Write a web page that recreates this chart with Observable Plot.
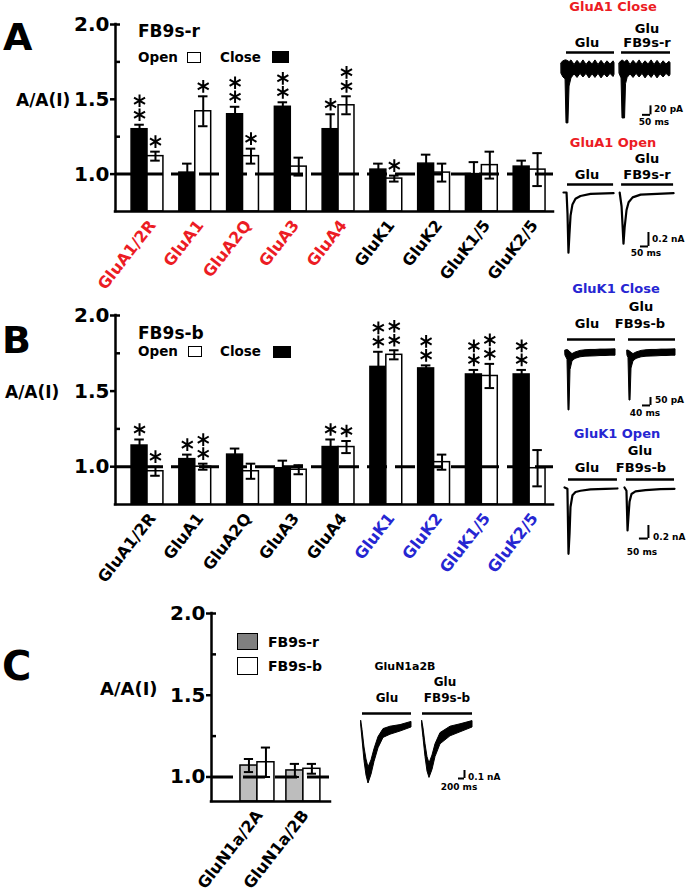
<!DOCTYPE html>
<html><head><meta charset="utf-8">
<script src="https://cdn.jsdelivr.net/npm/d3@7"></script>
<script src="https://cdn.jsdelivr.net/npm/@observablehq/plot@0.6"></script>
<style>
html,body{margin:0;padding:0;background:#fff;}
#fig{position:relative;width:693px;height:896px;overflow:hidden;background:#fff;}
#fig svg{position:absolute;}
.lbl{position:absolute;white-space:pre;line-height:1;font-weight:bold;font-family:"DejaVu Sans",sans-serif;color:#000;}
.sw{position:absolute;box-sizing:border-box;border:1.5px solid #000;}
</style></head><body><div id="fig"></div>
<script>
// ================= DATA =================
const catsAB = ["GluA1/2R","GluA1","GluA2Q","GluA3","GluA4","GluK1","GluK2","GluK1/5","GluK2/5"];
// Panel A : FB9s-r
const aCloseMean  = [1.30,1.01,1.40,1.45,1.30,1.03,1.07,1.00,1.05];
const aCloseSem   = [0.03,0.06,0.05,0.03,0.10,0.04,0.06,0.08,0.04];
const aOpenMean   = [1.12,1.42,1.12,1.05,1.46,0.97,1.01,1.06,1.03];
const aOpenSem    = [0.03,0.10,0.05,0.06,0.06,0.02,0.06,0.09,0.11];
const aCloseStars = [2,0,2,2,1,0,0,0,0];
const aOpenStars  = [1,1,1,0,2,1,0,0,0];
// Panel B : FB9s-b
const bCloseMean  = [1.14,1.05,1.08,0.99,1.13,1.66,1.65,1.61,1.61];
const bCloseSem   = [0.04,0.03,0.04,0.05,0.05,0.10,0.02,0.03,0.03];
const bOpenMean   = [0.97,1.00,0.97,0.98,1.13,1.74,1.03,1.60,0.99];
const bOpenSem    = [0.03,0.02,0.05,0.03,0.04,0.03,0.05,0.08,0.12];
const bCloseStars = [1,1,0,0,1,2,2,2,2];
const bOpenStars  = [1,2,0,0,1,2,0,2,0];
// Panel C : NMDA
const catsC   = ["GluN1a/2A","GluN1a/2B"];
const cRMean  = [1.07,1.04];
const cRSem   = [0.04,0.04];
const cBMean  = [1.09,1.05];
const cBSem   = [0.09,0.03];
const yTicks = [1.0,1.5,2.0];
const yMinor = [1.25,1.75,2.0];

// Current traces: [time ms, low, high] (noisy envelope) or [time ms, current]
const tA1C_1 = [[-31,-12,12],[-19,-20,16],[-6,-24,18],[0,-122,18],[12,-122,16],[19,-40,14],[31,-22,18],[50,-13,8],[69,-21,17],[88,-12,9],[106,-20,18],[125,-12,8],[144,-22,16],[163,-13,9],[181,-21,18],[200,-12,8],[219,-22,17],[238,-13,8],[256,-20,16],[275,-12,9],[294,-19,16],[300,-14,12]];
const tA1C_2 = [[-12,-12,12],[0,-22,16],[6,-111,18],[22,-111,14],[28,-35,16],[38,-21,18],[56,-13,8],[75,-21,17],[94,-12,9],[113,-20,18],[131,-12,8],[150,-22,16],[169,-13,9],[188,-21,18],[206,-12,8],[225,-22,17],[244,-13,8],[263,-20,16],[281,-12,9],[300,-18,15],[306,-14,12]];
const tA1O_1 = [[-25,0],[-6,0],[0,-0.3],[6,-0.86],[12,-0.6],[19,-0.33],[31,-0.17],[50,-0.09],[81,-0.05],[144,-0.02],[288,-0.01]];
const tA1O_2 = [[-12,0],[0,-0.2],[12,-0.73],[19,-0.5],[31,-0.25],[44,-0.14],[69,-0.07],[119,-0.03],[325,-0.01]];
const tK1C_1 = [[-10,-20,12],[0,-45,15],[5,-362,12],[10,-362,8],[15,-110,0],[25,-55,-10],[40,-40,0],[65,-30,10],[90,-26,14],[115,-25,16],[140,-24,16],[165,-22,18],[190,-22,18],[215,-20,19],[240,-20,20]];
const tK1C_2 = [[-5,-20,12],[0,-35,12],[5,-300,8],[10,-300,4],[15,-100,-2],[25,-55,-10],[40,-40,0],[65,-30,10],[90,-26,14],[115,-25,16],[140,-24,16],[165,-22,18],[190,-22,18],[215,-20,19],[235,-20,20]];
const tK1O_1 = [[-22,0],[-6,-0.02],[0,-1.02],[6,-0.7],[11,-0.3],[22,-0.12],[39,-0.07],[67,-0.05],[122,-0.03],[206,-0.02],[272,-0.015]];
const tK1O_2 = [[-11,0],[0,-0.05],[6,-0.66],[11,-0.45],[17,-0.22],[28,-0.1],[50,-0.06],[106,-0.04],[189,-0.025],[267,-0.02]];
const tN2B_1 = [[-43,-0.03,0.03],[0,-0.2,-0.08],[67,-0.47,-0.3],[133,-0.65,-0.45],[200,-0.75,-0.55],[300,-0.64,-0.46],[400,-0.48,-0.32],[533,-0.31,-0.17],[700,-0.18,-0.07],[933,-0.14,-0.04],[1267,-0.1,-0.02],[1633,-0.05,0.02]];
const tN2B_2 = [[-10,-0.03,0.03],[33,-0.18,-0.06],[100,-0.42,-0.26],[167,-0.6,-0.42],[233,-0.68,-0.5],[333,-0.58,-0.4],[433,-0.42,-0.26],[600,-0.26,-0.12],[933,-0.16,-0.04],[1267,-0.11,-0.01],[1667,-0.05,0.03]];
// Glu application periods (ms, per sweep) and scale bars
const appA1C = [[0,300],[0,306]];
const appA1O = [[0,288],[0,325]];
const appK1C = [[0,240],[0,235]];
const appK1O = [[0,272],[0,267]];
const appN2B = [[0,1633],[0,1667]];
const scaleA1C = {dur:50, amp:20,  durLabel:"50 ms",  ampLabel:"20 pA"};
const scaleA1O = {dur:50, amp:0.2, durLabel:"50 ms",  ampLabel:"0.2 nA"};
const scaleK1C = {dur:40, amp:50,  durLabel:"40 ms",  ampLabel:"50 pA"};
const scaleK1O = {dur:50, amp:0.2, durLabel:"50 ms",  ampLabel:"0.2 nA"};
const scaleN2B = {dur:200,amp:0.1, durLabel:"200 ms", ampLabel:"0.1 nA"};

// ================= HELPERS =================
const RED = "#ec1c24", BLUE = "#2626d2";
const fig = document.getElementById("fig");
function place(svg, left, top){ svg.style.left = left+"px"; svg.style.top = top+"px"; fig.appendChild(svg); }
function label(text, x, cy, size, anchor="start", color="#000"){
  const d = document.createElement("div");
  d.className = "lbl"; d.textContent = text;
  d.style.fontSize = size+"px"; d.style.top = (cy - 0.48*size)+"px"; d.style.color = color;
  if (anchor === "start") d.style.left = x+"px";
  else if (anchor === "middle") { d.style.left = x+"px"; d.style.transform = "translateX(-50%)"; }
  else { d.style.right = (693 - x)+"px"; }
  fig.appendChild(d);
}
function swatch(x, y, w, h, fill){
  const d = document.createElement("div"); d.className = "sw";
  Object.assign(d.style, {left:x+"px", top:y+"px", width:w+"px", height:h+"px", background:fill});
  fig.appendChild(d);
}
const baseStyle = {fontFamily:"DejaVu Sans", fontWeight:"bold", overflow:"visible", background:"none"};

function barPanel(o){
  const {cats, left, right, leftFill, rightFill, catColor, xDomain, yDomain, width, height,
         ml, mr, mt, mb, bw, capW, rot, ldx, ldy, lsize, dash} = o;
  const ppu = (width - ml - mr) / (xDomain[1] - xDomain[0]);
  const rows = [];
  cats.forEach((c, i) => {
    rows.push({i, side:0, v:left.mean[i],  e:left.sem[i],  s:left.stars ? left.stars[i] : 0,  fill:leftFill});
    rows.push({i, side:1, v:right.mean[i], e:right.sem[i], s:right.stars ? right.stars[i] : 0, fill:rightFill});
  });
  const cx = d => d.i + (d.side ? bw/2 : -bw/2);
  const catRows = cats.map((c, i) => ({i, c, color: catColor(c)}));
  return Plot.plot({
    width, height, marginLeft:ml, marginRight:mr, marginTop:mt, marginBottom:mb,
    x:{domain:xDomain, axis:null}, y:{domain:yDomain, axis:null},
    color:{type:"identity"},
    style: baseStyle,
    marks:[
      Plot.rect(rows, {x1: d => d.i - (d.side ? 0 : bw), x2: d => d.i + (d.side ? bw : 0),
                       y1: yDomain[0], y2: "v", fill: "fill", stroke: "black", strokeWidth: 1.5}),
      Plot.ruleY([1], {stroke:"black", strokeWidth:3, strokeDasharray: dash}),
      Plot.ruleX(rows, {x: cx, y1: d => d.v - d.e, y2: d => d.v + d.e, strokeWidth: 2}),
      Plot.ruleY(rows, {y: d => d.v + d.e, x1: d => cx(d) - capW, x2: d => cx(d) + capW, strokeWidth: 2}),
      Plot.ruleY(rows, {y: d => d.v - d.e, x1: d => cx(d) - capW, x2: d => cx(d) + capW, strokeWidth: 2}),
      Plot.dot(rows.filter(d => d.s >= 1), {x: cx, y: d => d.v + d.e, symbol:"asterisk", r:6, stroke:"black", strokeWidth:2, dy:-10}),
      Plot.dot(rows.filter(d => d.s >= 2), {x: cx, y: d => d.v + d.e, symbol:"asterisk", r:6, stroke:"black", strokeWidth:2, dy:-24}),
      Plot.ruleX([xDomain[0]], {strokeWidth:2.5, strokeLinecap:"square"}),
      Plot.ruleY([yDomain[0]], {strokeWidth:2.5, strokeLinecap:"square"}),
      Plot.ruleY(yTicks, {y: d => d, x1: xDomain[0] - 5/ppu, x2: xDomain[0], strokeWidth:2.5}),
      Plot.ruleY(yMinor, {y: d => d, x1: xDomain[0], x2: xDomain[0] + 5/ppu, strokeWidth:2.5}),
      Plot.text(yTicks, {y: d => d, frameAnchor:"left", text: d => d.toFixed(1), textAnchor:"end", dx:-6, fontSize:20, fontWeight:"bold"}),
      Plot.text(catRows, {x:"i", frameAnchor:"bottom", text:"c", rotate:rot, textAnchor:"end", dx:ldx, dy:ldy, fill:"color", fontSize:lsize, fontWeight:"bold"})
    ]
  });
}

function tracePlot(o){
  const {left, top, width, height, x0, kx, y0, ky, gap, sweeps, band, apps, appLevel, scale, corner} = o;
  const xDomain = [(left - x0)/kx, (left + width - x0)/kx];
  const yDomain = [(y0 - (top + height))/ky, (y0 - top)/ky];
  const rows = [];
  sweeps.forEach((sw, k) => sw.forEach(p => rows.push(band ? {sw:k, t:p[0], lo:p[1], hi:p[2]} : {sw:k, t:p[0], I:p[1]})));
  const appRows = apps.map((a, k) => ({sw:k, a:a[0], b:a[1]}));
  const X = d => d.t + d.sw*gap;
  const sb = [{t: corner[0], I: corner[1], dur: scale.dur, amp: scale.amp}];
  const traceMarks = band
    ? [Plot.areaY(rows, {x: X, y1:"lo", y2:"hi", z:"sw", fill:"black", stroke:"black", strokeWidth:1})]
    : [Plot.line(rows, {x: X, y:"I", z:"sw", stroke:"black", strokeWidth:2.2})];
  const svg = Plot.plot({
    width, height, margin:0,
    x:{domain:xDomain, axis:null}, y:{domain:yDomain, axis:null},
    style: baseStyle,
    marks:[
      ...traceMarks,
      Plot.ruleY(appRows, {y: appLevel, x1: d => d.a + d.sw*gap, x2: d => d.b + d.sw*gap, strokeWidth:2.5}),
      Plot.ruleX(sb, {x:"t", y1:"I", y2: d => d.I + d.amp, strokeWidth:2}),
      Plot.ruleY(sb, {y:"I", x1: d => d.t - d.dur, x2:"t", strokeWidth:2})
    ]
  });
  place(svg, left, top);
}

// ================= PANELS =================
const dashAB = "20,8";
place(barPanel({
  cats:catsAB, left:{mean:aCloseMean, sem:aCloseSem, stars:aCloseStars}, right:{mean:aOpenMean, sem:aOpenSem, stars:aOpenStars},
  leftFill:"black", rightFill:"white", catColor: c => c.startsWith("GluA") ? RED : "black",
  xDomain:[-0.67, 8.5], yDomain:[0.75, 2.0], width:560, height:300, ml:115, mr:7, mt:24, mb:89,
  bw:1/3, capW:0.1, rot:-52, ldx:9, ldy:14, lsize:16, dash:dashAB
}), 0, 0);

place(barPanel({
  cats:catsAB, left:{mean:bCloseMean, sem:bCloseSem, stars:bCloseStars}, right:{mean:bOpenMean, sem:bOpenSem, stars:bOpenStars},
  leftFill:"black", rightFill:"white", catColor: c => c.startsWith("GluK") ? BLUE : "black",
  xDomain:[-0.67, 8.5], yDomain:[0.75, 2.0], width:560, height:300, ml:115, mr:7, mt:25, mb:86,
  bw:1/3, capW:0.1, rot:-52, ldx:9, ldy:14, lsize:16, dash:dashAB
}), 0, 290);

place(barPanel({
  cats:catsC, left:{mean:cRMean, sem:cRSem}, right:{mean:cBMean, sem:cBSem},
  leftFill:"#bdbdbd", rightFill:"white", catColor: () => "black",
  xDomain:[-1, 1.59], yDomain:[0.85, 2.0], width:340, height:306, ml:211, mr:10, mt:23, mb:95,
  bw:0.37, capW:0.1, rot:-52, ldx:6, ldy:14, lsize:16, dash:"22,10"
}), 0, 590);

// ================= TRACES =================
tracePlot({left:555, top:45, width:140, height:90, x0:566, kx:0.16, y0:68, ky:0.45, gap:344,
  sweeps:[tA1C_1, tA1C_2], band:true, apps:appA1C, appLevel:35.6, scale:scaleA1C, corner:[525,-103]});
tracePlot({left:555, top:175, width:140, height:85, x0:567, kx:0.16, y0:192, ky:70, gap:338,
  sweeps:[tA1O_1, tA1O_2], band:false, apps:appA1O, appLevel:0.114, scale:scaleA1O, corner:[506,-0.771]});
tracePlot({left:555, top:330, width:140, height:90, x0:567, kx:0.2, y0:352, ky:0.16, gap:305,
  sweeps:[tK1C_1, tK1C_2], band:true, apps:appK1C, appLevel:81, scale:scaleK1C, corner:[415,-331]});
tracePlot({left:555, top:470, width:140, height:95, x0:568, kx:0.18, y0:487, ky:65, gap:322,
  sweeps:[tK1O_1, tK1O_2], band:false, apps:appK1O, appLevel:0.123, scale:scaleK1O, corner:[444,-0.785]});
tracePlot({left:350, top:700, width:150, height:95, x0:362, kx:0.03, y0:723, ky:80, gap:2000,
  sweeps:[tN2B_1, tN2B_2], band:true, apps:appN2B, appLevel:0.125, scale:scaleN2B, corner:[3400,-0.6875]});

// ================= TEXT / LEGENDS =================
// Panel A
label("A", 3, 36, 38);
label("A/A(I)", 16, 100.5, 17);
label("FB9s-r", 138, 31.5, 17);
label("Open", 138, 57.5, 13.5); swatch(187, 52, 14, 11, "#fff");
label("Close", 220, 57.5, 13.5); swatch(272, 51, 17, 12, "#000");
// Panel B
label("B", 2, 339, 38);
label("A/A(I)", 5, 392.5, 17);
label("FB9s-b", 138, 333.5, 17);
label("Open", 138, 351.5, 13.5); swatch(188, 346, 14, 11, "#fff");
label("Close", 220, 351.5, 13.5); swatch(273, 346, 18, 12, "#000");
// Panel C
label("C", 2, 665, 40);
label("A/A(I)", 100, 688.5, 18);
swatch(237, 633, 21, 17, "#808080"); label("FB9s-r", 268, 642, 14);
swatch(237, 657, 21, 18, "#fff");    label("FB9s-b", 268, 666, 14);
// Trace annotations
label("GluA1 Close", 613, 6.5, 13, "middle", RED);
label("Glu", 647, 28, 13, "middle"); label("Glu", 587, 42, 13, "middle"); label("FB9s-r", 647, 42, 13, "middle");
label(scaleA1C.ampLabel, 654, 109, 9); label(scaleA1C.durLabel, 654, 122, 9, "middle");
label("GluA1 Open", 613, 142, 13, "middle", RED);
label("Glu", 647, 158, 13, "middle"); label("Glu", 587, 174, 13, "middle"); label("FB9s-r", 647, 174, 13, "middle");
label(scaleA1O.ampLabel, 652, 239, 9); label(scaleA1O.durLabel, 646, 253, 9, "middle");
label("GluK1 Close", 616, 288, 13, "middle", BLUE);
label("Glu", 641, 306, 13, "middle"); label("Glu", 587, 323, 13, "middle"); label("FB9s-b", 640, 323, 13, "middle");
label(scaleK1C.ampLabel, 655, 400, 9); label(scaleK1C.durLabel, 645, 413, 9, "middle");
label("GluK1 Open", 617, 433, 13, "middle", BLUE);
label("Glu", 640, 450, 13, "middle"); label("Glu", 587, 467, 13, "middle"); label("FB9s-b", 641, 467, 13, "middle");
label(scaleK1O.ampLabel, 653, 537, 9); label(scaleK1O.durLabel, 642, 552, 9, "middle");
label("GluN1a2B", 405, 666, 11, "middle");
label("Glu", 445, 682, 12, "middle"); label("Glu", 387, 698, 12, "middle"); label("FB9s-b", 447, 698, 12, "middle");
label(scaleN2B.ampLabel, 468, 777, 9); label(scaleN2B.durLabel, 459, 787, 9, "middle");
</script></body></html>
